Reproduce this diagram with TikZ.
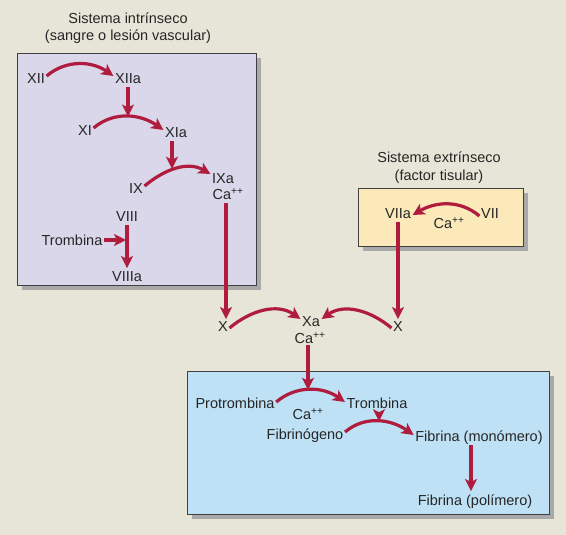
\documentclass[tikz,border=0pt]{standalone}
\usepackage{fontspec}
\setmainfont{Liberation Sans}
\usetikzlibrary{arrows.meta}
\definecolor{bg}{HTML}{E7E5D7}
\definecolor{lav}{HTML}{D9D7E9}
\definecolor{sky}{HTML}{BFE1F5}
\definecolor{sand}{HTML}{FBE9BA}
\definecolor{arr}{HTML}{B01C3E}
\definecolor{txt}{HTML}{262626}
\definecolor{shade}{HTML}{A9A9A9}
\begin{document}
\begin{tikzpicture}[x=1pt,y=-1pt,
  font=\fontsize{14.5}{17}\selectfont,
  lbl/.style={text=txt,inner sep=1.5pt,text height=10.5pt,text depth=0pt},
  flow/.style={draw=arr,line width=3.2pt,-{Stealth[length=12pt,width=12pt,inset=3pt]}},
  panel/.style={draw=black!75,line width=0.8pt},
  shadow/.style={fill=shade}]
\fill[bg] (0,0) rectangle (566,535);
\useasboundingbox (0,0) rectangle (566,535);
% panels
\fill[shadow] (22,58) rectangle (261,290);
\filldraw[panel,fill=lav] (17,53) rectangle (256,285);
\fill[shadow] (363,193) rectangle (528,251);
\filldraw[panel,fill=sand] (358,188) rectangle (523,246);
\fill[shadow] (192,376) rectangle (554,519);
\filldraw[panel,fill=sky] (187,371) rectangle (549,514);
% titles
\node[lbl] (t1) at (128,18) {Sistema intrínseco};
\node[lbl] (t2) at (128,35) {(sangre o lesión vascular)};
\node[lbl] (t3) at (439,157) {Sistema extrínseco};
\node[lbl] (t4) at (439,175) {(factor tisular)};
% intrinsic
\node[lbl] (xii) at (36,78) {XII};
\node[lbl] (xiia) at (128,78) {XIIa};
\node[lbl] (xi) at (85,130) {XI};
\node[lbl] (xia) at (176,132) {XIa};
\node[lbl] (ix) at (136,188) {IX};
\node[lbl] (ixa) at (223,178) {IXa};
\node[lbl] (ca1) at (228,194) {Ca\textsuperscript{++}};
\node[lbl] (viii) at (127,216) {VIII};
\node[lbl] (tromb1) at (72,240) {Trombina};
\node[lbl] (viiia) at (127,276) {VIIIa};
% extrinsic
\node[lbl] (viia) at (398,213) {VIIa};
\node[lbl] (vii) at (490,213) {VII};
\node[lbl] (ca2) at (449,223) {Ca\textsuperscript{++}};
% common
\node[lbl] (x1) at (223,326) {X};
\node[lbl] (xa) at (311,321) {Xa};
\node[lbl] (ca3) at (310,338) {Ca\textsuperscript{++}};
\node[lbl] (x2) at (398,326) {X};
\node[lbl] (protro) at (235,403) {Protrombina};
\node[lbl] (tromb2) at (377,403) {Trombina};
\node[lbl] (ca4) at (308,414) {Ca\textsuperscript{++}};
\node[lbl] (fibgen) at (305,434) {Fibrinógeno};
\node[lbl] (mono) at (479,436) {Fibrina (monómero)};
\node[lbl] (poli) at (475,500) {Fibrina (polímero)};
% arcs
\draw[flow] ([yshift=2pt]xii.east) to[out=40,in=145] ([yshift=2pt]xiia.west);
\draw[flow] ([yshift=2pt]xi.east) to[out=40,in=145] coordinate[pos=0.5] (m1) ([yshift=2pt]xia.west);
\draw[flow] ([yshift=2pt]ix.east) to[out=40,in=150] coordinate[pos=0.5] (m2) ([yshift=4pt]ixa.west);
\draw[flow] ([yshift=-3pt]vii.west) to[out=140,in=30] ([yshift=-2pt]viia.east);
\draw[flow] ([yshift=-2pt]x1.east) to[out=40,in=145] ([yshift=2pt]xa.west);
\draw[flow] ([yshift=-2pt]x2.west) to[out=140,in=35] ([yshift=2pt]xa.east);
\draw[flow] ([yshift=1pt]protro.east) to[out=40,in=145] coordinate[pos=0.5] (m3) ([yshift=1pt]tromb2.west);
\draw[flow] ([yshift=2pt]fibgen.east) to[out=40,in=145] coordinate[pos=0.5] (m4) ([yshift=1pt]mono.west);
% vertical arrows
\draw[flow] ([yshift=-2pt]xiia.south) -- (xiia.south |- m1);
\draw[flow] ([xshift=-4pt,yshift=-2pt]xia.south) -- ([xshift=-4pt]xia.south |- m2);
\draw[flow] ([yshift=-2pt]viii.south) -- ([yshift=1pt]viiia.north);
\draw[flow] (tromb1.east) -- ([xshift=-1pt]viii.south |- tromb1);
\draw[flow] ([xshift=-2pt,yshift=-2pt]ca1.south) -- ([xshift=-2pt]ca1.south |- x1.north);
\draw[flow] ([yshift=-2pt]viia.south) -- (x2.north);
\draw[flow] ([xshift=-2pt]ca3.south) -- ([xshift=-2pt]ca3.south |- m3);
\draw[flow] ([xshift=2pt,yshift=-5pt]tromb2.south) -- ([xshift=2pt]tromb2.south |- m4);
\draw[flow] ([xshift=-8pt,yshift=-2pt]mono.south) -- ([xshift=-4pt,yshift=2pt]poli.north);
\end{tikzpicture}
\end{document}
